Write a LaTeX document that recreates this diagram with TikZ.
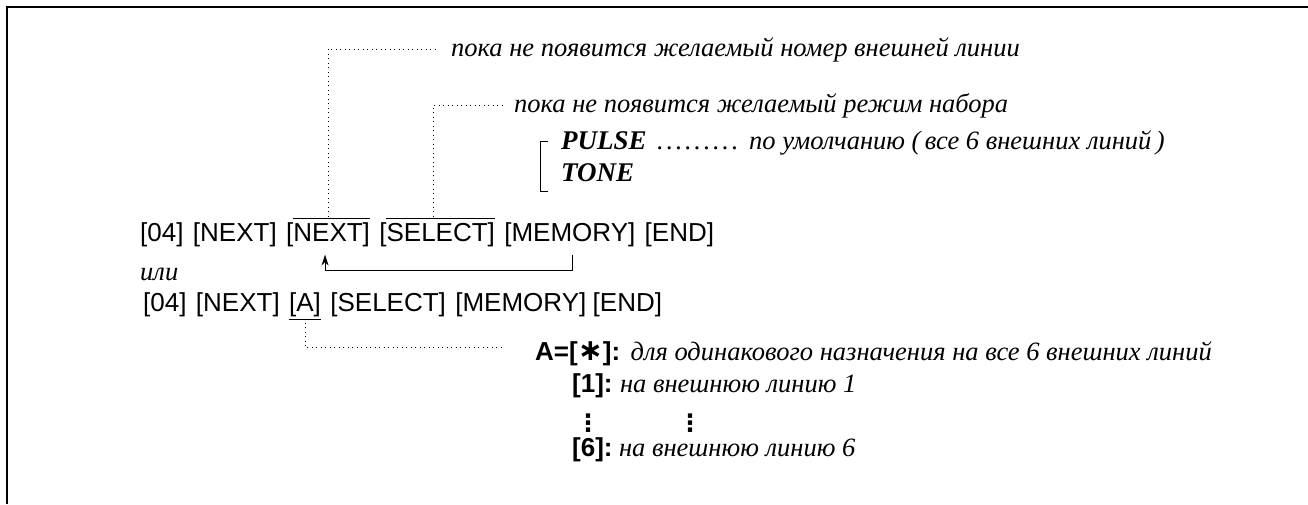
\documentclass[tikz,border=0pt]{standalone}
\usepackage{fontspec}
\setmainfont{Liberation Serif}
\setsansfont{Liberation Sans}
\newfontfamily\symfont{DejaVu Sans}
\usetikzlibrary{arrows.meta,positioning}

\newcommand{\leaderdots}{\foreach \i in {1,...,9}{.\kern2.7pt}}

\begin{document}
\begin{tikzpicture}[x=1pt,y=-1pt,
  key/.style={font=\sffamily\fontsize{26}{26}\selectfont,inner sep=0pt,anchor=base west},
  sel/.style={font=\sffamily\bfseries\fontsize{26}{26}\selectfont,inner sep=0pt,anchor=base west},
  note/.style={font=\itshape\fontsize{26.5}{26.5}\selectfont,inner sep=0pt,anchor=base west},
  mode/.style={font=\bfseries\itshape\fontsize{27}{27}\selectfont,inner sep=0pt,anchor=base west},
  dotline/.style={line width=0.8pt,dash pattern=on 1pt off 3.5pt},
  arr/.style={-{Stealth[length=11pt,width=7pt]},line width=1pt}]
  \useasboundingbox (0,0) rectangle (1308,504);
  % Frame
  \draw[line width=1.5pt] (7,504) -- (7,7) -- (1308,7);
  % Notes at the top
  \node[note] (nextnote) at (451,56) {пока не появится желаемый номер внешней линии};
  \node[note] (modenote) at (514,112) {пока не появится желаемый режим набора};
  \node[mode] (pulse) at (561,149) {PULSE};
  \node[mode] (tone) at (561,181) {TONE};
  \node[note] (pulsedots) at (657,149) {\leaderdots};
  \node[note] (defnote) at (749,149) {по умолчанию (\,все 6 внешних линий\,)};
  \draw[line width=0.9pt] (548,141) -- (540,141) -- (540,191) -- (548,191);
  % Key row 1
  \node[key] (k041) at (140,241) {[04]};
  \node[key,base right=9pt of k041] (nx1) {[NEXT]};
  \node[key,base right=9pt of nx1] (nx2) {[NEXT]};
  \node[key,base right=9pt of nx2] (sel1) {[SELECT]};
  \node[key,base right=9pt of sel1] (mem1) {[MEMORY]};
  \node[key,base right=9pt of mem1] (end1) {[END]};
  \draw[line width=0.9pt] ([xshift=7pt,yshift=4pt]nx2.north west) -- ([yshift=4pt]nx2.north east);
  \draw[line width=0.9pt] ([xshift=7pt,yshift=4pt]sel1.north west) -- ([yshift=4pt]sel1.north east);
  \draw[dotline,shorten >=14pt] ([yshift=5pt]nx2.north) |- (nextnote.west);
  \draw[dotline,shorten >=10pt] ([xshift=-4pt,yshift=5pt]sel1.north) |- (modenote.west);
  \draw[arr] ([xshift=3pt,yshift=-8pt]mem1.south) -- ++(0,16) -| ([xshift=-3pt,yshift=-8pt]nx2.south);
  \node[note] (ili) at (140,280) {или};
  % Key row 2
  \node[key] (k042) at (143,311) {[04]};
  \node[key,base right=9pt of k042] (nx3) {[NEXT]};
  \node[key,base right=9pt of nx3] (a2) {[A]};
  \node[key,base right=9pt of a2] (sel2) {[SELECT]};
  \node[key,base right=9pt of sel2] (mem2) {[MEMORY]};
  \node[key,base right=6pt of mem2] (end2) {[END]};
  \draw[line width=0.9pt] ([yshift=-3pt]a2.south west) -- ([yshift=-3pt]a2.south east);
  % Choices for A
  \node[sel] (aeq) at (535,360) {A=[{\symfont\fontsize{30}{30}\selectfont ∗}]:};
  \node[note,base right=10pt of aeq] (anote) {для одинакового назначения на все 6 внешних линий};
  \node[sel] (one) at (572,392) {[1]:};
  \node[note,base right=7pt of one] (onenote) {на внешнюю линию 1};
  \node[font=\symfont\bfseries\fontsize{24}{24}\selectfont,inner sep=0pt] (vd1) at (588,423) {⋮};
  \node[font=\symfont\bfseries\fontsize{24}{24}\selectfont,inner sep=0pt] (vd2) at (690,423) {⋮};
  \node[sel] (six) at (572,456) {[6]:};
  \node[note,base right=6pt of six] (sixnote) {на внешнюю линию 6};
  \draw[dotline,shorten >=30pt] ([yshift=-6pt]a2.south) |- ([yshift=6pt]aeq.west);
\end{tikzpicture}
\end{document}
